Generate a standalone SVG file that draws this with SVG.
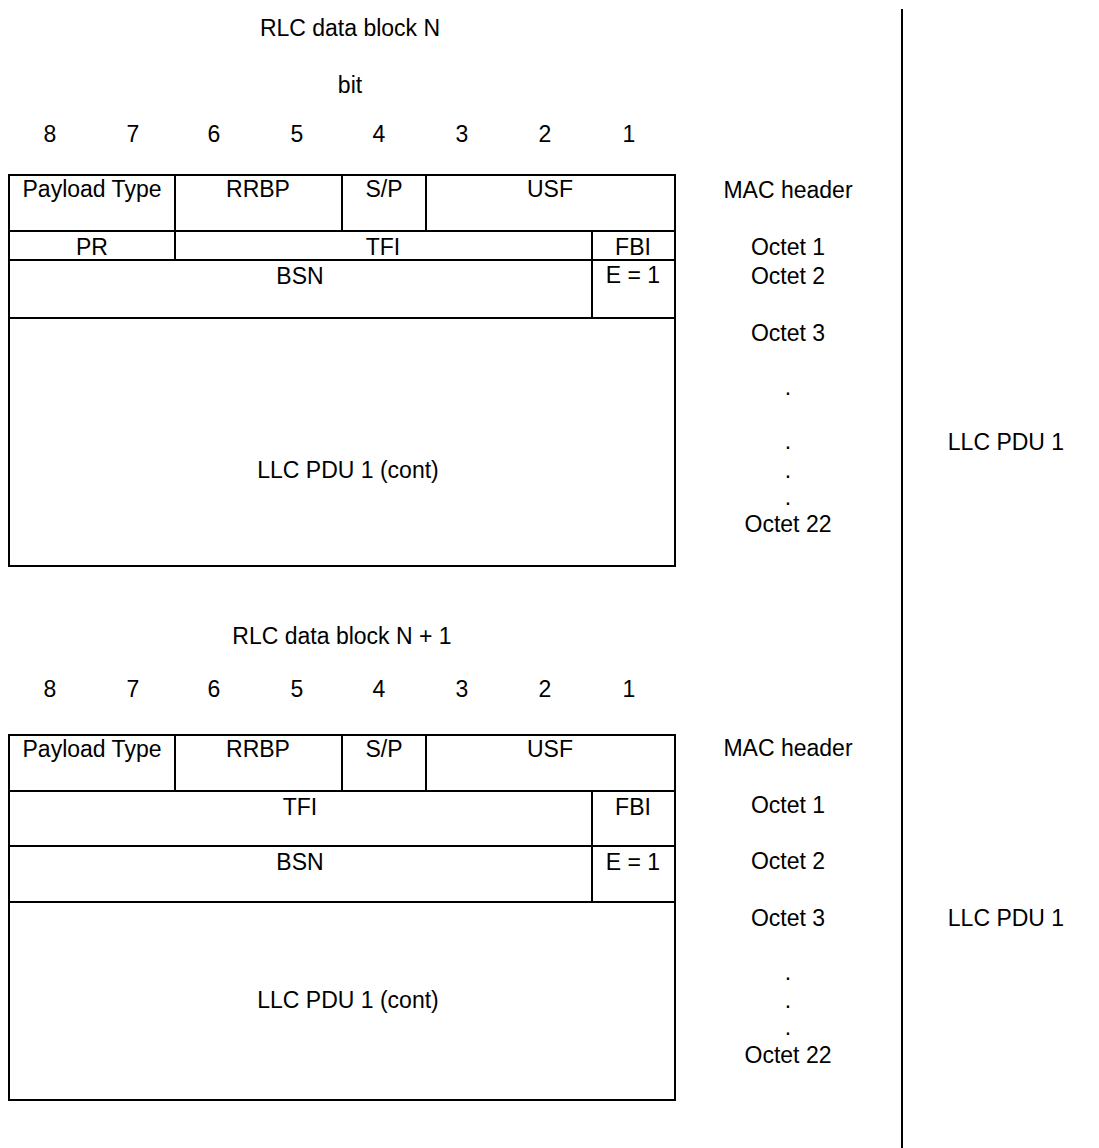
<svg xmlns="http://www.w3.org/2000/svg" width="1099" height="1148" viewBox="0 0 1099 1148">
<style>
text{font-family:"Liberation Sans",Arial,sans-serif;font-size:23px;fill:#000;text-anchor:middle}
.ln{stroke:#000;stroke-width:2;fill:none}
</style>
<rect width="1099" height="1148" fill="#fff"/>
<g id="block1">
<text x="350" y="36">RLC data block N</text>
<text x="350" y="93">bit</text>
<g id="bits1">
<text x="50" y="142">8</text><text x="133" y="142">7</text><text x="214" y="142">6</text><text x="297" y="142">5</text>
<text x="379" y="142">4</text><text x="462" y="142">3</text><text x="545" y="142">2</text><text x="629" y="142">1</text>
</g>
<g id="frame1" class="ln">
<rect x="9" y="175" width="666" height="391"/>
<line x1="9" y1="231" x2="675" y2="231"/>
<line x1="9" y1="260" x2="675" y2="260"/>
<line x1="9" y1="318" x2="675" y2="318"/>
<line x1="175" y1="175" x2="175" y2="260"/>
<line x1="342" y1="175" x2="342" y2="231"/>
<line x1="426" y1="175" x2="426" y2="231"/>
<line x1="592" y1="231" x2="592" y2="318"/>
</g>
<g id="cells1">
<text x="92" y="197">Payload Type</text>
<text x="258" y="197">RRBP</text>
<text x="384" y="197">S/P</text>
<text x="550" y="197">USF</text>
<text x="92" y="255">PR</text>
<text x="383" y="255">TFI</text>
<text x="633" y="255">FBI</text>
<text x="300" y="284">BSN</text>
<text x="633" y="283">E = 1</text>
<text x="348" y="478">LLC PDU 1 (cont)</text>
</g>
<g id="octets1">
<text x="788" y="198">MAC header</text>
<text x="788" y="255">Octet 1</text>
<text x="788" y="284">Octet 2</text>
<text x="788" y="341">Octet 3</text>
<text x="788" y="395">.</text>
<text x="788" y="449">.</text>
<text x="788" y="478">.</text>
<text x="788" y="505">.</text>
<text x="788" y="532">Octet 22</text>
</g>
<text x="1006" y="450">LLC PDU 1</text>
</g>
<g id="block2">
<text x="342" y="644">RLC data block N + 1</text>
<g id="bits2">
<text x="50" y="697">8</text><text x="133" y="697">7</text><text x="214" y="697">6</text><text x="297" y="697">5</text>
<text x="379" y="697">4</text><text x="462" y="697">3</text><text x="545" y="697">2</text><text x="629" y="697">1</text>
</g>
<g id="frame2" class="ln">
<rect x="9" y="735" width="666" height="365"/>
<line x1="9" y1="791" x2="675" y2="791"/>
<line x1="9" y1="846" x2="675" y2="846"/>
<line x1="9" y1="902" x2="675" y2="902"/>
<line x1="175" y1="735" x2="175" y2="791"/>
<line x1="342" y1="735" x2="342" y2="791"/>
<line x1="426" y1="735" x2="426" y2="791"/>
<line x1="592" y1="791" x2="592" y2="902"/>
</g>
<g id="cells2">
<text x="92" y="757">Payload Type</text>
<text x="258" y="757">RRBP</text>
<text x="384" y="757">S/P</text>
<text x="550" y="757">USF</text>
<text x="300" y="815">TFI</text>
<text x="633" y="815">FBI</text>
<text x="300" y="870">BSN</text>
<text x="633" y="870">E = 1</text>
<text x="348" y="1008">LLC PDU 1 (cont)</text>
</g>
<g id="octets2">
<text x="788" y="756">MAC header</text>
<text x="788" y="813">Octet 1</text>
<text x="788" y="869">Octet 2</text>
<text x="788" y="926">Octet 3</text>
<text x="788" y="980">.</text>
<text x="788" y="1008">.</text>
<text x="788" y="1035">.</text>
<text x="788" y="1063">Octet 22</text>
</g>
<text x="1006" y="926">LLC PDU 1</text>
</g>
<g id="connectors">
<line class="ln" x1="902" y1="9" x2="902" y2="1148"/>
</g>
</svg>
